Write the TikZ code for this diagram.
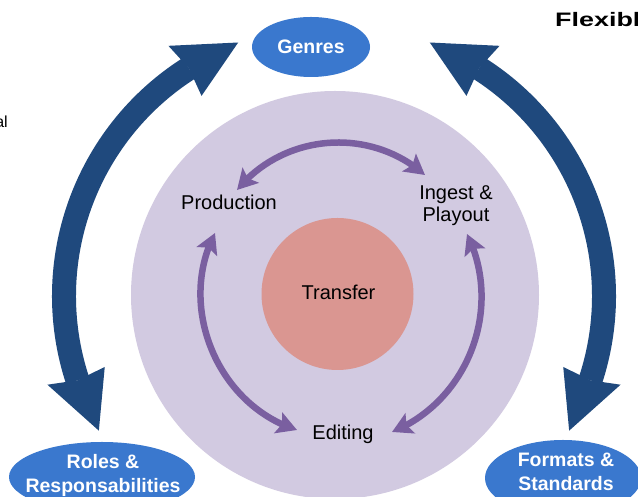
\documentclass[tikz,border=0pt]{standalone}
\usepackage{fontspec}
\setmainfont{Liberation Sans}
\usepackage{graphicx}
\usetikzlibrary{shapes.geometric,arrows.meta,bending}
\definecolor{lavender}{HTML}{D2CAE1}
\definecolor{salmon}{HTML}{DA9691}
\definecolor{navyarc}{HTML}{1F497D}
\definecolor{capsule}{HTML}{3A78CE}
\definecolor{violet}{HTML}{7A5FA0}
\begin{document}
\begin{tikzpicture}[x=1pt,y=1pt,
  bubble/.style={ellipse, fill=capsule, inner sep=0pt},
  bubbletext/.style={text=white, font=\fontsize{19.5}{24}\selectfont\bfseries, align=center, inner sep=0pt},
  cyclelabel/.style={font=\fontsize{20}{22}\selectfont, align=center, inner sep=0pt},
  shaft/.style={draw=navyarc, line width=24pt},
  cyclearrow/.style={draw=violet, line width=6.5pt,
    arrows={Stealth[length=20pt,width=22pt,inset=4pt]-Stealth[length=20pt,width=22pt,inset=4pt]}}
]
\useasboundingbox (0,0) rectangle (638,497);
\fill[white] (0,0) rectangle (638,497);

% outer disc and core
\node[circle, fill=lavender, minimum size=408pt, inner sep=0pt] (ring) at (335,202) {};
\node[circle, fill=salmon, minimum size=152pt, inner sep=0pt] (core) at (337.5,203) {};
\node[cyclelabel, anchor=base] (transfer) at (338.5,197) {Transfer};

% large double-headed arcs
\begin{scope}[shift={(334,201)}]
  \draw[shaft] (122.5:270) arc[start angle=122.5, end angle=198.2, radius=270];
  \fill[navyarc] (110.7:271) -- (123.5:300) -- (122.5:270) -- (123.5:240) -- cycle;
  \fill[navyarc] (209.8:271) -- (197.2:300) -- (198.2:270) -- (197.2:240) -- cycle;
  \draw[shaft] (57.5:270) arc[start angle=57.5, end angle=-18.2, radius=270];
  \fill[navyarc] (69.3:271) -- (56.5:300) -- (57.5:270) -- (56.5:240) -- cycle;
  \fill[navyarc] (-29.8:271) -- (-17.2:300) -- (-18.2:270) -- (-17.2:240) -- cycle;
\end{scope}

% outer topics
\node[bubble, minimum width=118pt, minimum height=60pt] (genres) at (311,450) {};
\node[bubbletext] (genresText) at (genres.center) {Genres};
\node[bubble, minimum width=186pt, minimum height=70pt] (roles) at (102,20) {};
\node[bubbletext] (rolesText) at (103,22) {Roles \&\\Responsabilities};
\node[bubble, minimum width=156pt, minimum height=76pt] (formats) at (563,19) {};
\node[bubbletext] (formatsText) at (566,25) {Formats \&\\Standards};

% side captions
\node[font=\fontsize{19.5}{24}\selectfont\bfseries, anchor=base west, inner sep=0pt] (flex) at (555,470) {\scalebox{1.38}[1]{Flexible}};
\node[font=\fontsize{16}{18}\selectfont, anchor=base east, inner sep=0pt] (leftcut) at (8,369) {al};

% inner stages
\node[cyclelabel, anchor=base] (production) at (229,287) {Production};
\node[cyclelabel] (ingest) at (456,291) {Ingest \&\\Playout};
\node[cyclelabel, anchor=base] (editing) at (343,57) {Editing};

\coordinate (prodNE) at (237,307);
\coordinate (ingNW) at (425,322);
\coordinate (prodS) at (215,264);
\coordinate (editW) at (297,67);
\coordinate (ingS) at (467,263);
\coordinate (editE) at (392,65);

\draw[cyclearrow] (prodNE) to[bend left=46] (ingNW);
\draw[cyclearrow] (prodS) to[bend right=50] (editW);
\draw[cyclearrow] (ingS) to[bend left=47] (editE);
\end{tikzpicture}
\end{document}
